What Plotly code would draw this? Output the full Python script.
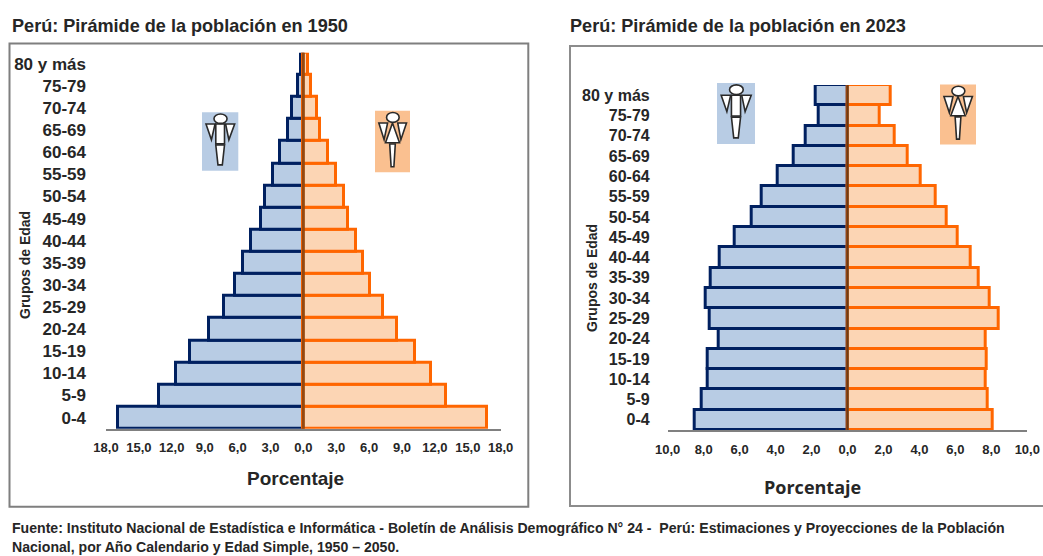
import plotly.graph_objects as go

grupos = ["0-4","5-9","10-14","15-19","20-24","25-29","30-34","35-39","40-44","45-49",
          "50-54","55-59","60-64","65-69","70-74","75-79","80 y más"]
hombres_1950 = [16.9,13.2,11.6,10.3,8.6,7.2,6.2,5.5,4.75,3.9,3.5,2.8,2.15,1.4,1.0,0.5,0.2]
mujeres_1950 = [16.75,13.05,11.6,10.2,8.5,7.3,6.1,5.45,4.8,4.05,3.7,2.95,2.25,1.55,1.2,0.7,0.4]
hombres_2023 = [8.5,8.1,7.8,7.75,7.15,7.65,7.9,7.6,7.1,6.3,5.35,4.8,3.9,3.0,2.35,1.6,1.76]
mujeres_2023 = [8.07,7.8,7.7,7.75,7.7,8.4,7.9,7.3,6.85,6.15,5.5,4.9,4.05,3.35,2.6,1.8,2.4]
ticks_1950 = [-18,-15,-12,-9,-6,-3,0,3,6,9,12,15,18]
ticks_2023 = [-10,-8,-6,-4,-2,0,2,4,6,8,10]

W, H = 1043, 556
FONT = "Liberation Sans"
DARK = "#262626"
NAVY, ORANGE = "#002060", "#FF6600"
M_FILL, F_FILL = "#B8CCE4", "#FCD5B4"
M_BG, F_BG = "#B8CCE4", "#FAC090"

px = lambda x: x / W
py = lambda y: 1 - y / H

fig = go.Figure()

def bars(xa, ya, men, women):
    fig.add_trace(go.Bar(y=grupos, x=[-v for v in men], orientation="h", xaxis=xa, yaxis=ya,
                         marker=dict(color=M_FILL, line=dict(color=NAVY, width=3)), showlegend=False))
    fig.add_trace(go.Bar(y=grupos, x=women, orientation="h", xaxis=xa, yaxis=ya,
                         marker=dict(color=F_FILL, line=dict(color=ORANGE, width=3)), showlegend=False))

bars("x", "y", hombres_1950, mujeres_1950)
bars("x2", "y2", hombres_2023, mujeres_2023)

def axis_x(x0, x1, lim, ticks, size, anchor):
    return dict(domain=[px(x0), px(x1)], range=[-lim, lim], tickmode="array", tickvals=ticks,
                ticktext=["<b>" + f"{abs(t):.1f}".replace(".", ",") + "</b>" for t in ticks],
                showgrid=False, zeroline=False, showline=True, linecolor="#808080", linewidth=2,
                anchor=anchor, automargin=False, tickangle=0,
                ticks="", ticklabelstandoff=6, tickfont=dict(family=FONT, size=size, color=DARK))

def axis_y(y0, y1, anchor, size, standoff):
    return dict(domain=[py(y1), py(y0)], type="category", categoryorder="array", categoryarray=grupos,
                anchor=anchor, showgrid=False, zeroline=False, showline=False, ticks="", automargin=False,
                tickmode="array", tickvals=grupos, ticktext=[f"<b>{g}</b>" for g in grupos],
                ticklabelstandoff=standoff, tickfont=dict(family=FONT, size=size, color=DARK))

shapes, notes = [], []

def rect(x0, y0, x1, y1, fill=None, line=None, w=2):
    shapes.append(dict(type="rect", xref="paper", yref="paper", x0=px(x0), x1=px(x1), y0=py(y0), y1=py(y1),
                       fillcolor=fill or "rgba(0,0,0,0)", line=dict(color=line or "rgba(0,0,0,0)", width=w if line else 0)))

def poly(pts, fill="white", w=1.6):
    d = "M" + " L".join(f"{px(x):.5f},{py(y):.5f}" for x, y in pts) + " Z"
    shapes.append(dict(type="path", xref="paper", yref="paper", path=d, fillcolor=fill,
                       line=dict(color="#2a2a2a", width=w)))

def icon(x0, y0, x1, y1, bg, female):
    rect(x0, y0, x1, y1, fill=bg)
    U = lambda u: x0 + u * (x1 - x0)
    V = lambda v: y0 + v * (y1 - y0)
    pts = lambda L: [(U(a), V(b)) for a, b in L]
    poly(pts([(.11,.20),(.36,.20),(.26,.47)]))
    poly(pts([(.65,.20),(.90,.20),(.74,.47)]))
    if female:
        poly(pts([(.50,.20),(.30,.52),(.70,.52)]))
        poly(pts([(.42,.54),(.58,.54),(.54,.91),(.46,.91)]))
    else:
        poly(pts([(.38,.20),(.62,.20),(.62,.54),(.38,.54)]))
        poly(pts([(.38,.56),(.62,.56),(.56,.90),(.44,.90)]))
    shapes.append(dict(type="circle", xref="paper", yref="paper", x0=px(U(.33)), x1=px(U(.69)),
                       y0=py(V(.19)), y1=py(V(.03)), fillcolor="white", line=dict(color="#2a2a2a", width=1.6)))

def text(x, y, s, size, family=FONT, anchor="center", angle=0):
    notes.append(dict(xref="paper", yref="paper", x=px(x), y=py(y), text=f"<b>{s}</b>", showarrow=False, textangle=angle,
                      xanchor=anchor, yanchor="middle", align="left",
                      font=dict(family=family, size=size, color=DARK)))

# panel frames
rect(9.5, 43.5, 528.3, 506.7, line="#7F7F7F", w=2)
shapes.append(dict(type="path", xref="paper", yref="paper",
                   path=f"M1,{py(46):.5f} L{px(570):.5f},{py(46):.5f} L{px(570):.5f},{py(506):.5f} L1,{py(506):.5f}",
                   line=dict(color="#8C8C8C", width=2)))

# centre lines over the bars
shapes.append(dict(type="line", xref="x", yref="paper", x0=0, x1=0, y0=py(428.7), y1=py(52.7), line=dict(color="#96480F", width=3)))
shapes.append(dict(type="line", xref="x2", yref="paper", x0=0, x1=0, y0=py(430), y1=py(85), line=dict(color="#6E3B16", width=2.5)))

icon(202, 112.3, 238.3, 170.7, M_BG, False)
icon(375, 110.7, 410, 172.3, F_BG, True)
icon(717, 83, 755, 144, M_BG, False)
icon(940, 84.5, 976, 144.5, F_BG, True)

text(10, 26, "Perú: Pirámide de la población en 1950", 18.1, anchor="left")
text(568, 26, "Perú: Pirámide de la población en 2023", 18.1, anchor="left")
text(295.5, 478, "Porcentaje", 19)
text(812, 487, "Porcentaje", 18, family="Open Sans")
text(25, 265, "Grupos de Edad", 14, angle=-90)
text(592, 278, "Grupos de Edad", 14, angle=-90)
text(10, 528, "Fuente: Instituto Nacional de Estadística e Informática - Boletín de Análisis Demográfico N° 24 -  Perú: Estimaciones y Proyecciones de la Población", 14.1, anchor="left")
text(10, 547, "Nacional, por Año Calendario y Edad Simple, 1950 – 2050.", 14.1, anchor="left")

fig.update_layout(
    width=W, height=H, margin=dict(l=0, r=0, t=0, b=0), autosize=False,
    paper_bgcolor="white", plot_bgcolor="rgba(0,0,0,0)", barmode="overlay", bargap=0, showlegend=False,
    xaxis=axis_x(106, 500.7, 18, ticks_1950, 13, "y"),
    yaxis=axis_y(52.7, 428.7, "x", 17, 19),
    xaxis2=axis_x(667.7, 1027.3, 10, ticks_2023, 13, "y2"),
    yaxis2=axis_y(85, 430, "x2", 16, 17),
    shapes=shapes, annotations=notes,
)

fig.write_html("out.html", config={"displayModeBar": False},
               post_script="document.body.style.margin='0';document.body.style.overflow='hidden';")
